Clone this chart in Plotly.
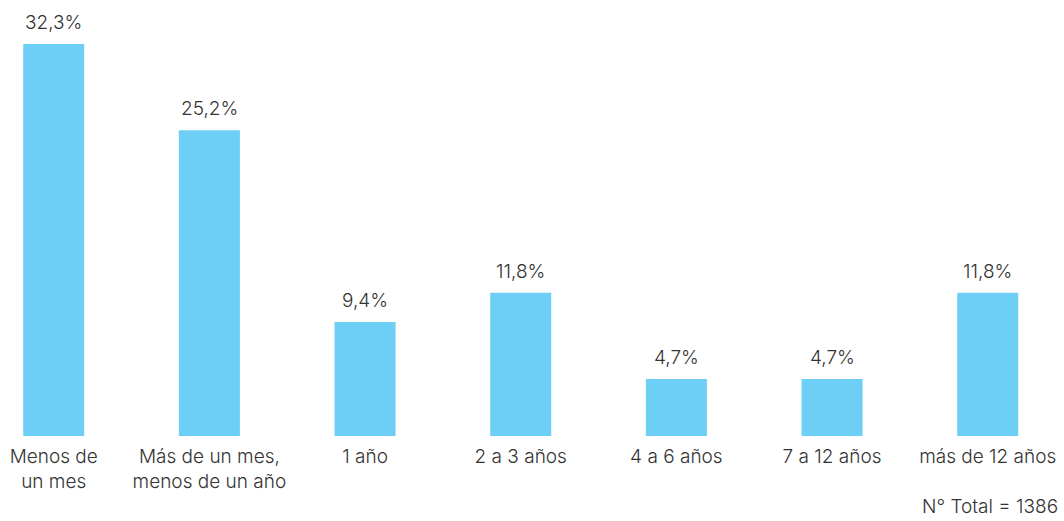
import plotly.graph_objects as go

categories = [
    "Menos de<br>un mes",
    "Más de un mes,<br>menos de un año",
    "1 año",
    "2 a 3 años",
    "4 a 6 años",
    "7 a 12 años",
    "más de 12 años",
]
values = [32.3, 25.2, 9.4, 11.8, 4.7, 4.7, 11.8]
total_note = "N° Total = 1386"

BAR_COLOR = "#6dcff6"
TEXT_COLOR = "#333333"
FONT = "Inter, Lato, sans-serif"
FONT_SIZE = 19

x_idx = list(range(len(categories)))

fig = go.Figure(
    go.Bar(
        x=x_idx,
        y=values,
        width=0.392,
        marker=dict(color=BAR_COLOR, line=dict(width=0)),
        hoverinfo="skip",
    )
)

# value labels above each bar
for xi, v in zip(x_idx, values):
    fig.add_annotation(
        x=xi, y=v, xref="x", yref="y",
        text=f"{v:.1f}%".replace(".", ","),
        showarrow=False, yanchor="bottom", yshift=8,
        font=dict(family=FONT, size=FONT_SIZE, color=TEXT_COLOR, weight=300),
    )

# sample size note, bottom-right corner
fig.add_annotation(
    x=1, y=0, xref="paper", yref="paper",
    text=total_note, showarrow=False, xanchor="right", yanchor="bottom",
    xshift=-4, yshift=-84,
    font=dict(family=FONT, size=FONT_SIZE, color=TEXT_COLOR, weight=300),
)

fig.update_layout(
    width=1064, height=521,
    margin=dict(l=0, r=0, t=0, b=85),
    paper_bgcolor="white", plot_bgcolor="white",
    showlegend=False,
    font=dict(family=FONT, size=FONT_SIZE, color=TEXT_COLOR, weight=300),
    xaxis=dict(
        range=[-0.345, 6.49],
        tickmode="array", tickvals=x_idx, ticktext=categories,
        showgrid=False, zeroline=False, showline=False, ticks="",
        tickfont=dict(family=FONT, size=FONT_SIZE, color=TEXT_COLOR, weight=300),
        ticklabelstandoff=7,
    ),
    yaxis=dict(
        range=[0, 436 / (392 / 32.3)],
        visible=False, showgrid=False, zeroline=False,
    ),
)

fig.write_html("out.html")
